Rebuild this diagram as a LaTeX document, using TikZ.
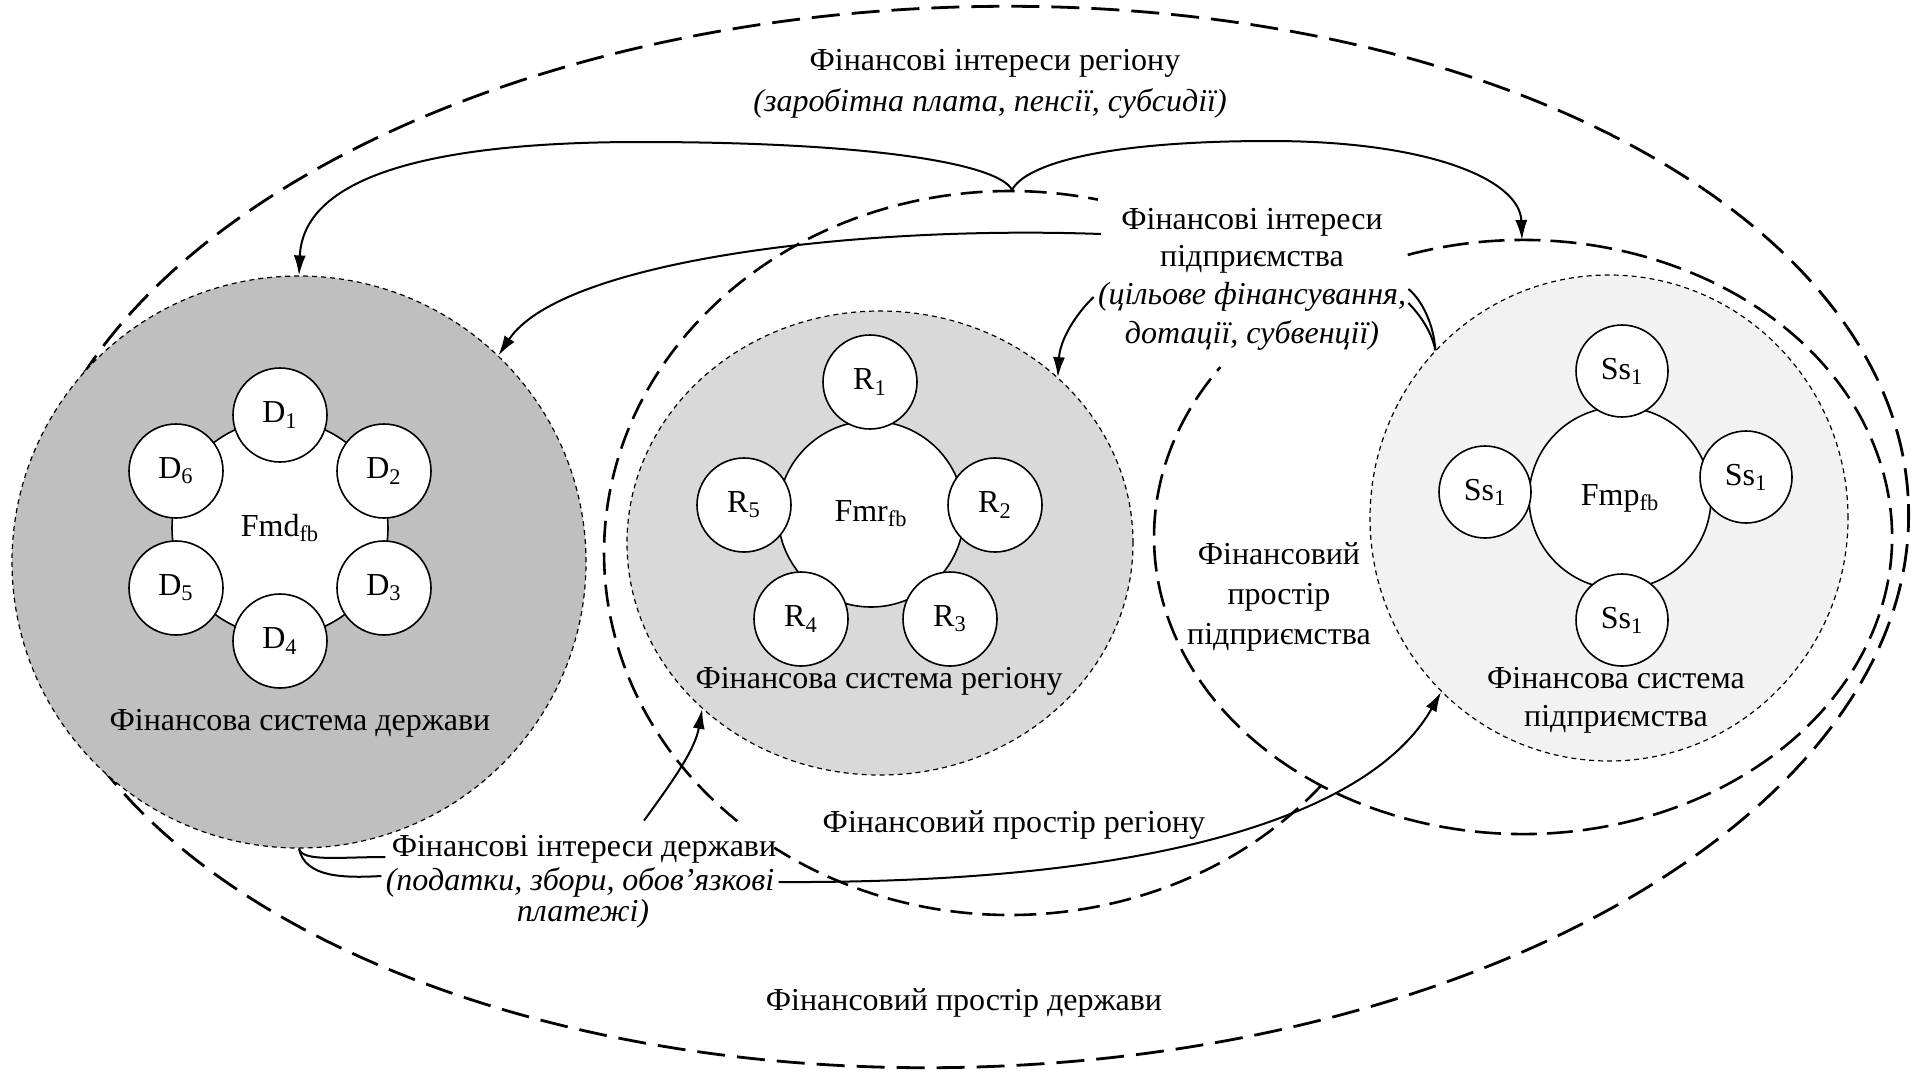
\documentclass[tikz,border=0pt]{standalone}
\usepackage{fontspec}
\setmainfont{Liberation Serif}
\usetikzlibrary{arrows.meta,shapes.geometric,calc}
\definecolor{stategray}{HTML}{BFBFBF}
\definecolor{reggray}{HTML}{D9D9D9}
\definecolor{entgray}{HTML}{F2F2F2}
\begin{document}
\begin{tikzpicture}[x=0.5pt,y=-0.5pt,
  bigdash/.style={line width=1.4pt, dash pattern=on 14pt off 6pt},
  regdash/.style={line width=1.3pt, dash pattern=on 11pt off 5pt},
  entdash/.style={line width=1.3pt, dash pattern=on 13pt off 5pt},
  sysbox/.style={ellipse, draw, line width=0.6pt, dash pattern=on 2.5pt off 2pt, inner sep=0pt},
  core/.style={circle, draw, fill=white, line width=0.8pt, inner sep=0pt, font=\fontsize{16}{19}\selectfont},
  subc/.style={circle, draw, fill=white, line width=0.8pt, inner sep=0pt, minimum size=47pt, font=\fontsize{16}{19}\selectfont},
  lbl/.style={inner sep=1pt, align=center, font=\fontsize{16}{19}\selectfont},
  ilbl/.style={inner sep=1pt, align=center, font=\fontsize{16}{19}\selectfont\itshape},
  conn/.style={line width=1pt},
  arr/.style={conn, -{Latex[length=10pt,width=6pt]}}
]
\useasboundingbox (0,0) rectangle (1914,1071);

% spaces (dashed regions)
\coordinate (outc) at (967,537);
\coordinate (regc) at (1010,553);
\coordinate (entc) at (1523,537);
\draw[bigdash, rotate around={2:(outc)}] (outc) ellipse [x radius=942, y radius=530];
\draw[regdash] ($(regc)+(40:406 and 362)$) arc[start angle=40, end angle=125.5, x radius=406, y radius=362];
\draw[regdash] ($(regc)+(132.2:406 and 362)$) arc[start angle=132.2, end angle=282.5, x radius=406, y radius=362];
\draw[entdash] ($(entc)+(251.8:369 and 297)$) arc[start angle=251.8, end angle=574.9, x radius=369, y radius=297];
\coordinate (cusp) at (1012,190);
\coordinate (entspacetop) at (1522,240);

% systems
\node[sysbox, fill=stategray, minimum width=287pt, minimum height=286pt] (stsys) at (299,562) {};
\node[sysbox, fill=reggray, minimum width=253pt, minimum height=232pt] (regsys) at (880,543) {};
\node[sysbox, fill=entgray, minimum width=239pt, minimum height=243pt] (entsys) at (1609,518) {};

% state ring
\node[core, minimum size=108pt] (fmd) at (280,528) {Fmd\textsubscript{fb}};
\node[subc] (d1) at (280,415) {D\textsubscript{1}};
\node[subc] (d2) at (384,471) {D\textsubscript{2}};
\node[subc] (d3) at (384,588) {D\textsubscript{3}};
\node[subc] (d4) at (280,641) {D\textsubscript{4}};
\node[subc] (d5) at (176,588) {D\textsubscript{5}};
\node[subc] (d6) at (176,471) {D\textsubscript{6}};

% region ring
\node[core, minimum size=93pt] (fmr) at (871,514) {Fmr\textsubscript{fb}};
\node[subc] (r1) at (870,382) {R\textsubscript{1}};
\node[subc] (r2) at (995,505) {R\textsubscript{2}};
\node[subc] (r3) at (950,619) {R\textsubscript{3}};
\node[subc] (r4) at (801,619) {R\textsubscript{4}};
\node[subc] (r5) at (744,505) {R\textsubscript{5}};

% enterprise ring
\node[core, minimum size=91pt] (fmp) at (1620,498) {Fmp\textsubscript{fb}};
\node[subc, minimum size=46pt] (s1) at (1622,371) {Ss\textsubscript{1}};
\node[subc, minimum size=46pt] (s2) at (1746,477) {Ss\textsubscript{1}};
\node[subc, minimum size=46pt] (s3) at (1622,620) {Ss\textsubscript{1}};
\node[subc, minimum size=46pt] (s4) at (1485,492) {Ss\textsubscript{1}};

% labels
\node[lbl] (stsyslbl) at (300,723) {Фінансова система держави};
\node[lbl] (regsyslbl) at (879,681) {Фінансова система регіону};
\node[lbl] (entsyslbl) at (1616,700) {Фінансова система\\підприємства};
\node[lbl] (regint1) at (995,63) {Фінансові інтереси регіону};
\node[ilbl] (regint2) at (990,103) {(заробітна плата, пенсії, субсидії)};
\node[lbl] (entint1) at (1252,222) {Фінансові інтереси};
\node[lbl] (entint2) at (1252,259) {підприємства};
\node[ilbl] (entint3) at (1252,297) {(цільове фінансування,};
\node[ilbl] (entint4) at (1252,335) {дотації, субвенції)};
\node[lbl, font=\fontsize{16}{19.8}\selectfont] (entspacelbl) at (1279,597) {Фінансовий\\простір\\підприємства};
\node[lbl] (regspacelbl) at (1014,825) {Фінансовий простір регіону};
\node[lbl] (stint1) at (584,849) {Фінансові інтереси держави};
\node[ilbl] (stint2) at (580,882) {(податки, збори, обов’язкові};
\node[ilbl] (stint3) at (583,914) {платежі)};
\node[lbl] (stspacelbl) at (964,1003) {Фінансовий простір держави};

% connectors
\draw[arr] (cusp) .. controls (1000,165) and (880,142) .. (640,142) .. controls (420,142) and (303,180) .. (stsys.north);
\draw[arr] (cusp) .. controls (1025,165) and (1100,141) .. (1270,141) .. controls (1430,141) and (1520,180) .. (entspacetop);
\draw[arr] ([xshift=-9pt,yshift=-6pt]entint1.west) .. controls (850,225) and (560,262) .. (stsys.46);
\draw[arr] ([xshift=-1pt]entint3.west) .. controls (1075,315) and (1060,340) .. (regsys.43);
\draw[conn] ([yshift=4pt]entint3.east) .. controls (1422,300) and (1434,325) .. (entsys.136);
\draw[conn] ([yshift=-3pt]entint3.east) .. controls (1420,315) and (1432,332) .. (entsys.136);
\draw[conn] (stsys.south) .. controls (302,862) and (340,857) .. ([xshift=-2pt,yshift=-4pt]stint1.west);
\draw[conn] (stsys.south) .. controls (305,878) and (345,878) .. ([xshift=-1pt,yshift=3pt]stint2.west);
\draw[arr] ([xshift=1pt]stint2.east) .. controls (1200,884) and (1380,800) .. (entsys.-134);
\draw[arr] ($(stint1.north)+(60,-12)$) .. controls (672,782) and (695,750) .. (regsys.-137);
\end{tikzpicture}
\end{document}
